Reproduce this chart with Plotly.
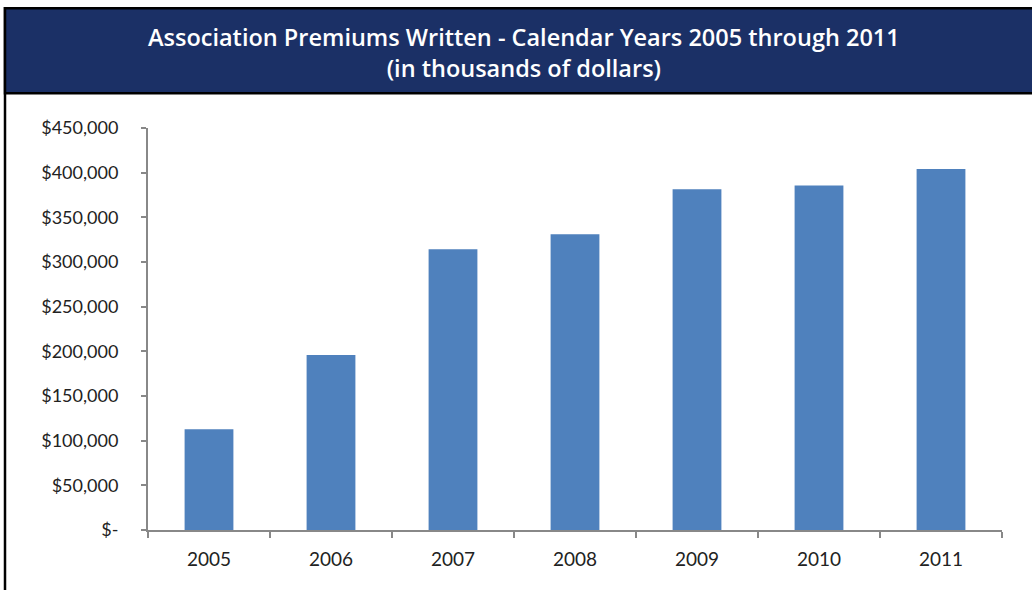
import plotly.graph_objects as go

years = ["2005", "2006", "2007", "2008", "2009", "2010", "2011"]
premiums = [112700, 195900, 314200, 331000, 381400, 385500, 404100]
y_tick_vals = [0, 50000, 100000, 150000, 200000, 250000, 300000, 350000, 400000, 450000]
y_tick_text = ["$-", "$50,000", "$100,000", "$150,000", "$200,000", "$250,000",
               "$300,000", "$350,000", "$400,000", "$450,000"]
title_text = "Association Premiums Written - Calendar Years 2005 through 2011<br>(in thousands of dollars)"

W, H = 1032, 590
L, R, T, B = 148, 1002, 127.7, 529.7


def px(x):
    return (x - L) / (R - L)


def py(y):
    return (B - y) / (B - T)


fig = go.Figure()
fig.add_trace(go.Bar(x=years, y=premiums, marker=dict(color="#4F81BD", line=dict(width=0))))

axis_gray = "#888888"
fig.update_layout(
    width=W, height=H,
    margin=dict(l=L, r=W - R, t=T, b=H - B),
    paper_bgcolor="white", plot_bgcolor="white",
    showlegend=False,
    bargap=0.6,
    font=dict(family="Lato", size=16, color="#222222"),
    xaxis=dict(type="category", showline=True, linecolor=axis_gray, linewidth=2,
               ticks="outside", tickson="boundaries", ticklen=6, tickcolor=axis_gray,
               tickwidth=2, showgrid=False, ticklabelstandoff=11,
               tickfont=dict(family="Lato", size=19, color="#222222")),
    yaxis=dict(range=[0, 450000], tickvals=y_tick_vals, ticktext=y_tick_text,
               showline=True, linecolor=axis_gray, linewidth=2,
               ticks="outside", ticklen=5, tickcolor=axis_gray, tickwidth=2,
               showgrid=False, zeroline=False, ticklabelstandoff=19,
               tickfont=dict(family="Lato", size=18, color="#222222")),
    shapes=[
        dict(type="rect", xref="paper", yref="paper",
             x0=px(5), x1=px(1045), y0=py(600), y1=py(8),
             line=dict(color="black", width=2.5), fillcolor="rgba(0,0,0,0)", layer="below"),
        dict(type="rect", xref="paper", yref="paper",
             x0=px(5), x1=px(1045), y0=py(93), y1=py(8),
             line=dict(color="black", width=2.5), fillcolor="#1B3066", layer="below"),
    ],
    annotations=[
        dict(text=title_text, xref="paper", yref="paper", x=px(524), y=py(52),
             xanchor="center", yanchor="middle", showarrow=False, align="center",
             font=dict(family="Open Sans", size=23.5, color="white", weight=600)),
    ],
)

fig.write_html("out.html", config={"displayModeBar": False},
               post_script="document.body.style.margin='0';document.body.style.padding='0';")
